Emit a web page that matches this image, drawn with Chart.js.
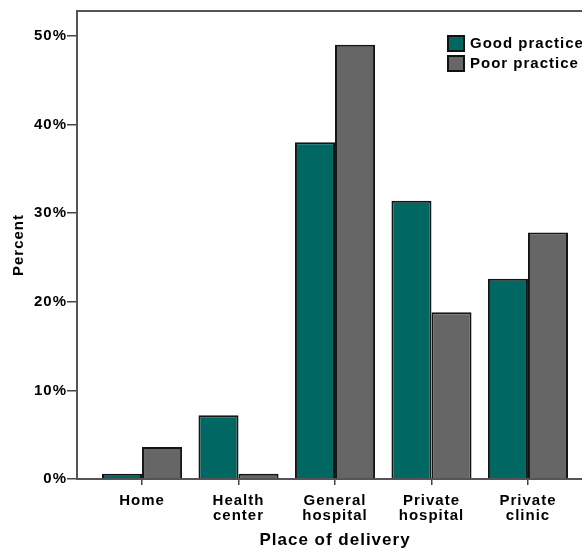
<!DOCTYPE html>
<html>
<head>
<meta charset="utf-8">
<script src="https://cdn.jsdelivr.net/npm/chart.js@4/dist/chart.umd.min.js"></script>
<style>
  html,body{margin:0;padding:0;background:#fff;overflow:hidden}
  #wrap{position:absolute;left:0;top:0;width:593px;height:560px}
</style>
</head>
<body>
<div id="wrap"><canvas id="myChart" width="593" height="560"></canvas></div>
<script>
// categories and values (percent)
let places=['Home',['Health','center'],['General','hospital'],['Private','hospital'],['Private','clinic']]
let goodPractice=[0.6,7.2,38.0,31.4,22.6]
let poorPractice=[3.6,0.6,49.0,18.8,27.8]
let yTicks=[0,10,20,30,40,50]
let seriesNames=['Good practice','Poor practice']
let seriesColors=['#006763','#666666']

const font='"Liberation Sans", Arial, sans-serif'

function points(arr){
  let out=[]
  for(let i=0;i<arr.length;i++){
    out.push({x:i,y:arr[i]})
  }
  return out
}

// wide bold lettering like the original
const spacingPlugin={
  id:'spacing',
  beforeLayout(chart){chart.ctx.letterSpacing='1px'},
  beforeDraw(chart){chart.ctx.letterSpacing='1px'}
}

// frame round the plot + legend box drawn inside the plot (top right)
const framePlugin={
  id:'frame',
  beforeDatasetsDraw(chart){
    const a=chart.chartArea, c=chart.ctx
    c.save()
    c.strokeStyle='#555'
    c.lineWidth=2
    c.strokeRect(a.left,a.top,a.right-a.left,a.bottom-a.top)
    c.restore()
  },
  afterDraw(chart){
    const a=chart.chartArea, c=chart.ctx
    let x=a.right-145, y=a.top+25
    c.save()
    c.font='bold 15px '+font
    c.textBaseline='middle'
    for(let i=0;i<chart.data.datasets.length;i++){
      let ds=chart.data.datasets[i]
      c.fillStyle=ds.backgroundColor
      c.fillRect(x,y+i*20,16,15)
      c.strokeStyle='#111'
      c.lineWidth=2
      c.strokeRect(x,y+i*20,16,15)
      c.fillStyle='#000'
      c.fillText(ds.label,x+22,y+i*20+8)
    }
    c.restore()
  }
}

const ctx=document.getElementById('myChart')

new Chart(ctx,{
  type:'bar',
  data:{
    datasets:[{
      label:seriesNames[0],
      data:points(goodPractice),
      backgroundColor:seriesColors[0],
      borderColor:'#151515',
      borderWidth:2
    },{
      label:seriesNames[1],
      data:points(poorPractice),
      backgroundColor:seriesColors[1],
      borderColor:'#151515',
      borderWidth:2
    }]
  },
  options:{
    responsive:false,
    animation:false,
    categoryPercentage:0.83,
    barPercentage:1,
    layout:{padding:{left:0,top:11,right:0,bottom:0}},
    plugins:{legend:{display:false},tooltip:{enabled:false}},
    scales:{
      x:{
        type:'linear',
        offset:false,
        min:-0.674,
        max:4.674,
        afterFit(s){s.height=81},
        afterBuildTicks(s){s.ticks=places.map((p,i)=>({value:i}))},
        ticks:{
          autoSkip:false,
          maxRotation:0,
          color:'#000',
          padding:8,
          font:{family:font,size:15,weight:'bold',lineHeight:1},
          callback:(v)=>places[v]
        },
        grid:{offset:false,drawOnChartArea:false,tickLength:6,color:'#444',lineWidth:1.5},
        border:{display:false},
        title:{
          display:true,
          text:'Place of delivery',
          color:'#000',
          font:{family:font,size:17,weight:'bold'},
          padding:{top:4,bottom:9}
        }
      },
      y:{
        min:0,
        max:52.8,
        afterFit(s){s.width=77},
        afterBuildTicks(s){s.ticks=yTicks.map(v=>({value:v}))},
        ticks:{
          color:'#000',
          padding:0,
          font:{family:font,size:15,weight:'bold'},
          callback:(v)=>v+'%'
        },
        grid:{drawOnChartArea:false,tickLength:10,color:'#444',lineWidth:1.5},
        border:{display:false},
        title:{
          display:true,
          text:'Percent',
          color:'#000',
          font:{family:font,size:15,weight:'bold'},
          padding:{top:10,bottom:4}
        }
      }
    }
  },
  plugins:[spacingPlugin,framePlugin]
})
</script>
</body>
</html>
